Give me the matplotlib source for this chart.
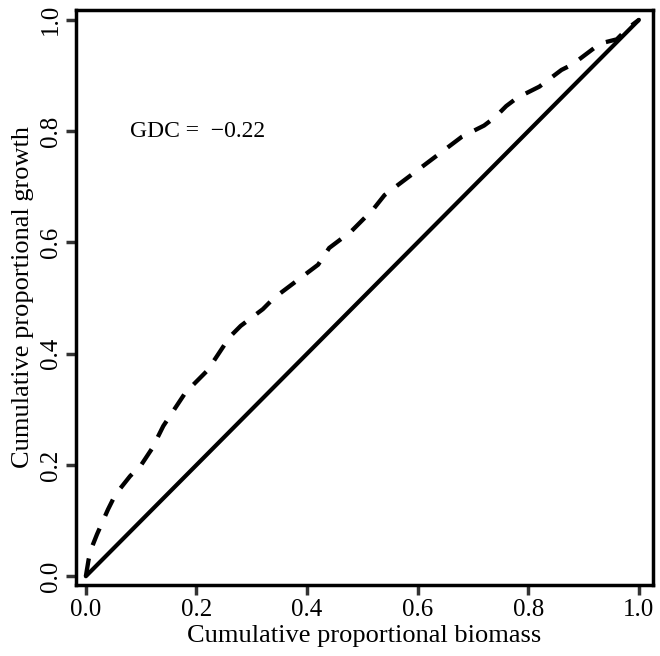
import matplotlib
matplotlib.use("Agg")
import matplotlib.pyplot as plt

plt.rcParams['font.family'] = ['Liberation Serif', 'DejaVu Serif']

# cumulative proportional biomass vs growth
biomass = [0.0, 0.005, 0.01, 0.02, 0.04, 0.05, 0.06, 0.08, 0.10, 0.12, 0.14, 0.16,
           0.18, 0.20, 0.22, 0.24, 0.26, 0.28, 0.30, 0.32, 0.34, 0.36, 0.38, 0.40,
           0.42, 0.44, 0.46, 0.48, 0.50, 0.52, 0.54, 0.56, 0.58, 0.60, 0.62, 0.64,
           0.66, 0.68, 0.70, 0.72, 0.74, 0.76, 0.78, 0.80, 0.82, 0.84, 0.86, 0.88,
           0.90, 0.92, 0.94, 0.96, 0.98, 1.0]
growth = [0.0, 0.03, 0.05, 0.075, 0.12, 0.14, 0.155, 0.18, 0.20, 0.23, 0.27, 0.30,
          0.33, 0.35, 0.37, 0.40, 0.43, 0.45, 0.465, 0.48, 0.50, 0.515, 0.53, 0.545,
          0.56, 0.59, 0.605, 0.62, 0.64, 0.66, 0.685, 0.70, 0.715, 0.73, 0.745, 0.76,
          0.775, 0.79, 0.80, 0.81, 0.825, 0.845, 0.86, 0.87, 0.88, 0.895, 0.91, 0.92,
          0.935, 0.95, 0.96, 0.965, 0.985, 1.0]
ticks = [0.0, 0.2, 0.4, 0.6, 0.8, 1.0]
gdc = -0.22

fig = plt.figure(figsize=(6.6, 6.56), dpi=100)
ax = fig.add_axes([0.115, 0.108, 0.874, 0.877])

ax.plot([0, 1], [0, 1], color='black', lw=3, solid_capstyle='round')
ax.plot(biomass, growth, color='black', lw=3.1, linestyle=(0, (4.2, 3.2)))

ax.set_xlim(-0.018, 1.025)
ax.set_ylim(-0.016, 1.018)
ax.set_xticks(ticks)
ax.set_yticks(ticks)
ax.set_xticklabels([f'{t:.1f}' for t in ticks])
ax.set_yticklabels([f'{t:.1f}' for t in ticks], rotation=90, va='center')
ax.tick_params(direction='out', length=7, width=2.5, color='#333333',
               labelsize=18, pad=3)

for s in ax.spines.values():
    s.set_linewidth(2.5)

ax.set_xlabel('Cumulative proportional biomass', fontsize=19, labelpad=3)
ax.set_ylabel('Cumulative proportional growth', fontsize=19, labelpad=4)

ax.text(0.08, 0.80, f'GDC =  \u2212{abs(gdc):.2f}', fontsize=17,
        ha='left', va='center')

fig.savefig('out.png', dpi=100)
